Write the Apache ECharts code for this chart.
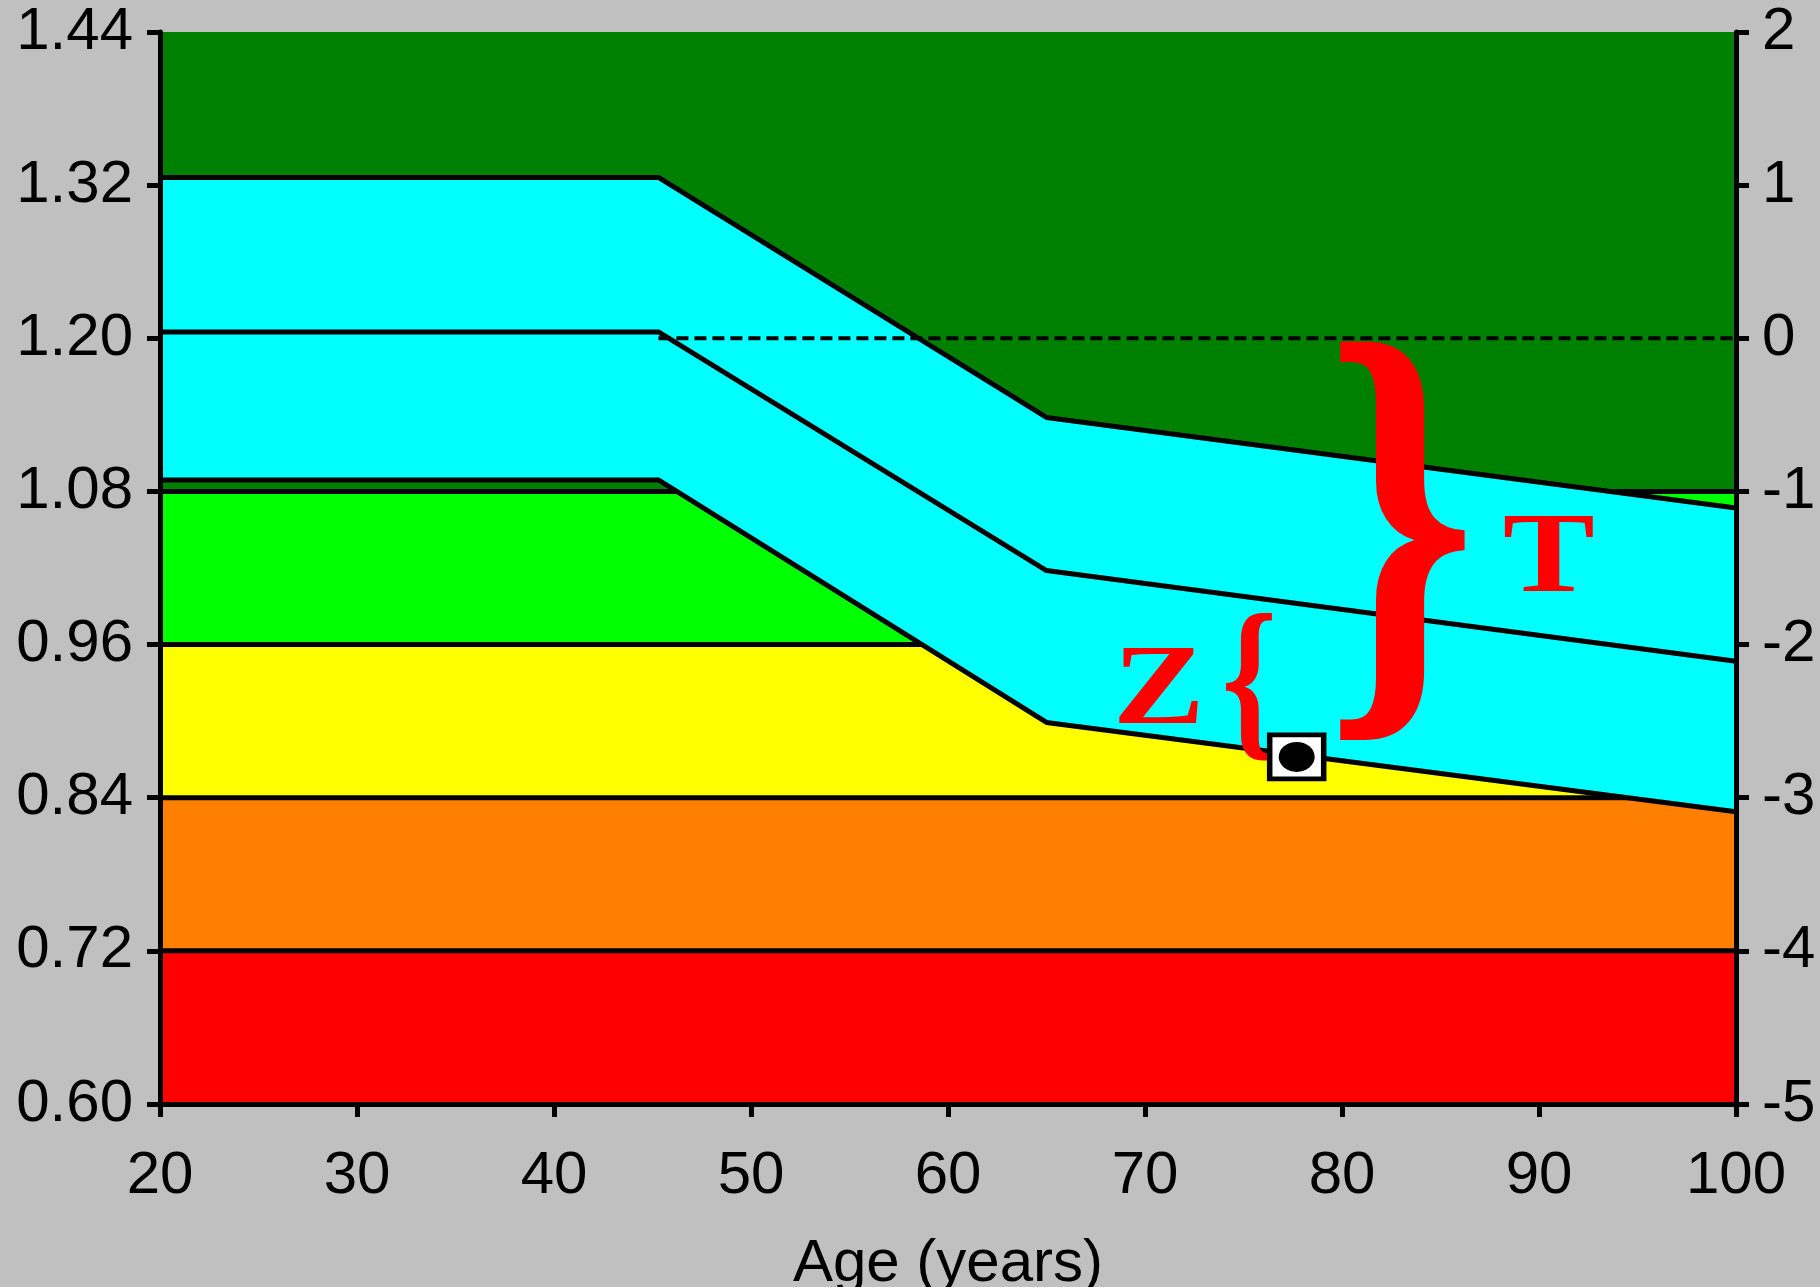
<!DOCTYPE html>
<html>
<head>
<meta charset="utf-8">
<title>BMD vs Age</title>
<script src="https://cdn.jsdelivr.net/npm/echarts@6/dist/echarts.min.js"></script>
<style>
  html, body { margin: 0; padding: 0; background: #c0c0c0; }
  #chart { width: 1820px; height: 1287px; }
</style>
</head>
<body>
<div id="chart"></div>
<script>
// age break points of the reference curves (years)
const ages = [20, 45.3, 65, 100];

// reference curves (BMD)
const upperBmd = [1.326, 1.326, 1.138, 1.067];
const meanBmd = [1.205, 1.205, 1.018, 0.947];
const lowerBmd = [1.089, 1.089, 0.899, 0.829];

// T-score band limits (T = -1, -2, -3, -4)
const bandLimits = [1.08, 0.96, 0.84, 0.72];

// young adult mean (T = 0), dashed from the start of the decline
const youngMean = 1.20;
const dashStartAge = 45.3;

// patient measurement [age, BMD]
const patient = [77.7, 0.872];

// braces: [age, top BMD, bottom BMD]
const braceGlyphs = ['{', '}'];
const braceSpans = [[75.3, 0.985, 0.869], [83.0, 1.20, 0.885]];

// labels Z and T: [age, BMD]
const letterGlyphs = ['Z', 'T'];
const letterPos = [[70.7, 0.922], [90.5, 1.025]];

// axis ranges
const ageAxis = { min: 20, max: 100, step: 10 };
const bmdAxis = { min: 0.60, max: 1.44, step: 0.12 };
const tAxis = { min: -5, max: 2, step: 1 };

const bandColors = ['#00ff00', '#ffff00', '#ff8000', '#ff0000'];
const labelFont = 'Liberation Sans, Arial, sans-serif';
const serifFont = 'Liberation Serif, Times New Roman, serif';

const chart = echarts.init(document.getElementById('chart'));

function axisCommon() {
    return {
        axisLine: { show: true, onZero: false, lineStyle: { color: '#000', width: 5 } },
        axisTick: { show: true, inside: false, length: 13, lineStyle: { color: '#000', width: 5 } },
        splitLine: { show: false },
        z: 20
    };
}

// 背景色带 (each band fills down to the axis bottom, later ones on top)
const bandSeries = bandLimits.map((v, i) => ({
    type: 'line',
    z: 1,
    data: [[ageAxis.min, v], [ageAxis.max, v]],
    symbol: 'none',
    silent: true,
    lineStyle: { color: '#000', width: 5 },
    areaStyle: { color: bandColors[i], opacity: 1, origin: 'start' }
}));

// cyan reference range between lower and upper curves
const rangeSeries = {
    type: 'custom',
    z: 3,
    silent: true,
    data: ages.map((a, i) => [a, lowerBmd[i], upperBmd[i]]),
    encode: { x: 0, y: [1, 2] },
    renderItem: function (params, api) {
        if (params.dataIndex !== 0) return null;
        const pts = [];
        for (let i = 0; i < ages.length; i++) pts.push(api.coord([ages[i], upperBmd[i]]));
        for (let i = ages.length - 1; i >= 0; i--) pts.push(api.coord([ages[i], lowerBmd[i]]));
        return { type: 'polygon', shape: { points: pts }, style: { fill: '#00ffff' } };
    }
};

const curveSeries = [upperBmd, meanBmd, lowerBmd].map(arr => ({
    type: 'line',
    z: 4,
    data: ages.map((a, i) => [a, arr[i]]),
    symbol: 'none',
    silent: true,
    lineStyle: { color: '#000', width: 5 }
}));

const dashSeries = {
    type: 'line',
    z: 5,
    data: [[dashStartAge, youngMean], [ageAxis.max, youngMean]],
    symbol: 'none',
    silent: true,
    lineStyle: { color: '#000', width: 4, type: [12, 6] }
};

// brace glyph stretched over its BMD span
const braceSeries = {
    type: 'custom',
    z: 6,
    silent: true,
    data: braceSpans,
    encode: { x: 0, y: [1, 2] },
    renderItem: function (params, api) {
        const top = api.coord([api.value(0), api.value(1)]);
        const bot = api.coord([api.value(0), api.value(2)]);
        const fs = (bot[1] - top[1]) / 0.835;
        return {
            type: 'text',
            x: top[0],
            y: (top[1] + bot[1]) / 2 + 0.0246 * fs,
            scaleX: 0.8,
            style: {
                text: braceGlyphs[params.dataIndex],
                fontFamily: serifFont,
                fontWeight: 'bold',
                fontSize: fs,
                fill: '#ff0000',
                align: 'center',
                verticalAlign: 'middle'
            }
        };
    }
};

const letterSeries = {
    type: 'custom',
    z: 6,
    silent: true,
    data: letterPos,
    encode: { x: 0, y: 1 },
    renderItem: function (params, api) {
        const p = api.coord([api.value(0), api.value(1)]);
        return {
            type: 'text',
            x: p[0],
            y: p[1],
            scaleX: 1.2,
            style: {
                text: letterGlyphs[params.dataIndex],
                fontFamily: serifFont,
                fontWeight: 'bold',
                fontSize: 115,
                fill: '#ff0000',
                align: 'center',
                verticalAlign: 'middle'
            }
        };
    }
};

const markerSeries = [
    {
        type: 'scatter',
        z: 7,
        data: [patient],
        symbol: 'rect',
        symbolSize: [54, 44],
        silent: true,
        itemStyle: { color: '#fff', borderColor: '#000', borderWidth: 5, opacity: 1 }
    },
    {
        type: 'scatter',
        z: 8,
        data: [patient],
        symbol: 'circle',
        symbolSize: [36, 30],
        silent: true,
        itemStyle: { color: '#000', opacity: 1 }
    }
];

const option = {
    backgroundColor: '#c0c0c0',
    animation: false,
    grid: {
        left: 160,
        right: 84,
        top: 32,
        bottom: 183,
        show: true,
        backgroundColor: '#008000',
        borderWidth: 0,
        containLabel: false,
        outerBoundsMode: 'none'
    },
    xAxis: Object.assign(axisCommon(), {
        type: 'value',
        min: ageAxis.min,
        max: ageAxis.max,
        interval: ageAxis.step,
        name: 'Age (years)',
        nameLocation: 'middle',
        nameGap: 130,
        nameTextStyle: { color: '#000', fontSize: 60, fontFamily: labelFont },
        axisLabel: { color: '#000', fontSize: 60, fontFamily: labelFont, margin: 42 }
    }),
    yAxis: [
        Object.assign(axisCommon(), {
            type: 'value',
            position: 'left',
            min: bmdAxis.min,
            max: bmdAxis.max,
            interval: bmdAxis.step,
            axisLabel: {
                color: '#000', fontSize: 60, fontFamily: labelFont, margin: 27,
                formatter: v => v.toFixed(2)
            }
        }),
        Object.assign(axisCommon(), {
            type: 'value',
            position: 'right',
            min: tAxis.min,
            max: tAxis.max,
            interval: tAxis.step,
            axisLabel: { color: '#000', fontSize: 60, fontFamily: labelFont, margin: 26 }
        })
    ],
    series: [].concat(bandSeries, [rangeSeries], curveSeries, [dashSeries], [braceSeries, letterSeries], markerSeries)
};

chart.setOption(option);
</script>
</body>
</html>
